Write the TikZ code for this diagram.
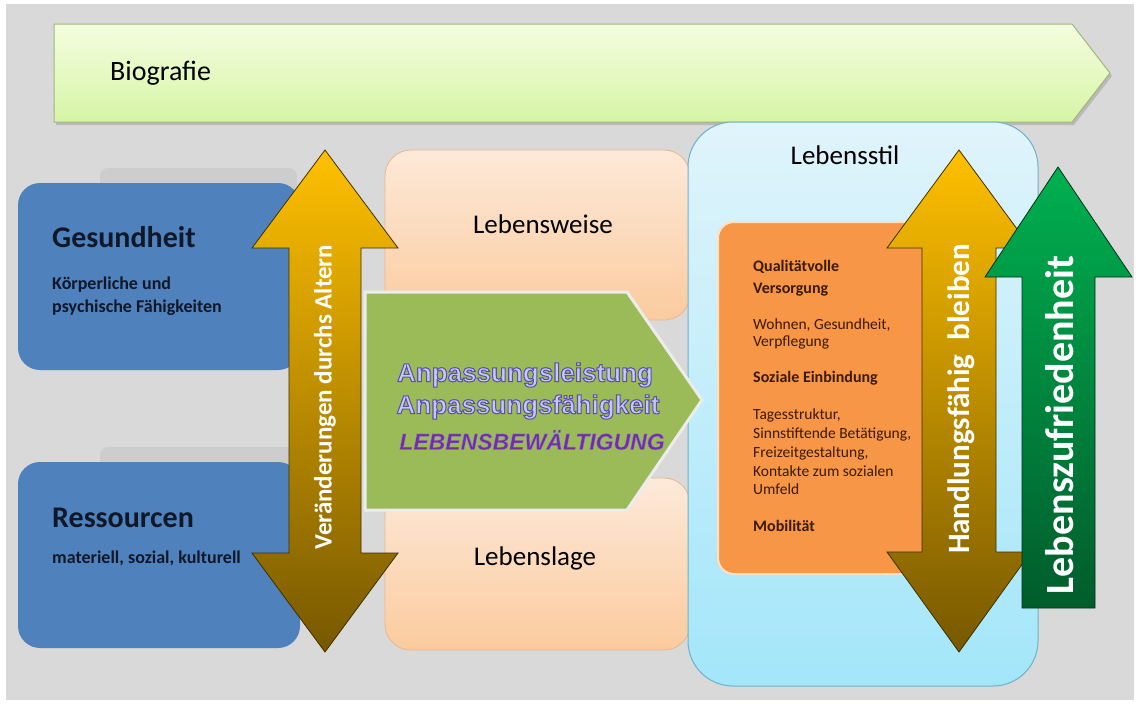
\documentclass[tikz,border=0pt]{standalone}
\usepackage{fontspec}
\setmainfont{Carlito}
\newfontfamily\wordartfont[BoldFeatures={FakeBold=4}]{Liberation Sans}
\newfontfamily\wordartital[BoldItalicFeatures={FakeBold=1.5}]{Liberation Sans}
\newcommand{\strokergb}[1]{\special{pdf:literal direct #1 RG}}
\definecolor{bg}{HTML}{D9D9D9}
\definecolor{navy}{HTML}{101828}
\definecolor{boxblue}{HTML}{4F81BD}
\definecolor{shadowgray}{HTML}{CDCDCD}
\definecolor{biotop}{HTML}{F5FDDF}
\definecolor{biobot}{HTML}{D6F5A6}
\definecolor{bioline}{HTML}{A0B878}
\definecolor{peachtop}{HTML}{FDE9D9}
\definecolor{peachbot}{HTML}{FBCB9E}
\definecolor{peachline}{HTML}{E8B890}
\definecolor{skytop}{HTML}{E0F4FB}
\definecolor{skybot}{HTML}{A3E6FA}
\definecolor{skyline}{HTML}{70B0C8}
\definecolor{orangebox}{HTML}{F79646}
\definecolor{orangeline}{HTML}{FCE0C8}
\definecolor{obrown}{HTML}{3A1A00}
\definecolor{olivegreen}{HTML}{9BBB59}
\definecolor{paleline}{HTML}{ECECEC}
\definecolor{goldtop}{HTML}{FFC000}
\definecolor{goldmid}{HTML}{C89600}
\definecolor{goldbot}{HTML}{775800}
\definecolor{goldline}{HTML}{3D3000}
\definecolor{greentop}{HTML}{00B050}
\definecolor{greenbot}{HTML}{005C2C}
\definecolor{greenline}{HTML}{003018}
\definecolor{lavender}{HTML}{C8C8F2}
\definecolor{purpletext}{HTML}{7030A0}
\tikzset{
  bluebox/.style={fill=boxblue, rounded corners=22pt},
  boxshadow/.style={fill=shadowgray, rounded corners=8pt},
  peachbox/.style={top color=peachtop, bottom color=peachbot, draw=peachline, line width=0.8pt, rounded corners=26pt},
  goldarrow/.style={top color=goldtop, middle color=goldmid, bottom color=goldbot, draw=goldline, line width=0.8pt},
  greenarrow/.style={top color=greentop, bottom color=greenbot, draw=greenline, line width=0.8pt},
  btitle/.style={font=\fontsize{30}{36}\selectfont\bfseries, text=navy, anchor=base west, inner sep=0pt},
  bsub/.style={font=\fontsize{18}{22}\selectfont\bfseries, text=navy, anchor=base west, inner sep=0pt},
  plabel/.style={font=\fontsize{27}{32}\selectfont, text=black, anchor=base, inner sep=0pt},
  ohead/.style={font=\fontsize{16}{19}\selectfont\bfseries, text=obrown, anchor=base west, inner sep=0pt},
  otext/.style={font=\fontsize{15.5}{19}\selectfont, text=obrown, anchor=base west, inner sep=0pt},
  wordart/.style={font=\wordartfont\bfseries\fontsize{26}{30}\selectfont, text=lavender, inner sep=0pt},
  vlabel/.style={rotate=90, text=white, inner sep=0pt},
}
\begin{document}
\begin{tikzpicture}[x=1pt,y=-1pt]
\useasboundingbox (0,0) rectangle (1138,707);
\fill[white] (0,0) rectangle (1138,707);
\fill[bg] (6,4) rectangle (1134,700);

% Biografie arrow
\fill[shadowgray!80!black!60!bg] (56,27) -- (1074,27) -- (1112,76) -- (1074,125) -- (56,125) -- cycle;
\path[top color=biotop, bottom color=biobot, draw=bioline, line width=1pt]
  (54,24) -- (1072,24) -- (1110,73) -- (1072,122) -- (54,122) -- cycle;
\node[font=\fontsize{28}{34}\selectfont, anchor=west, inner sep=0pt] (bio) at (110,73) {Biografie};

% left blue boxes
\fill[boxshadow] (100,168) rectangle (297,205);
\fill[bluebox] (18,183) rectangle (300,370);
\fill[boxshadow] (100,447) rectangle (297,485);
\fill[bluebox] (18,462) rectangle (300,648);
\node[btitle] (ges) at (52,247) {Gesundheit};
\node[bsub] (ges1) at (52,289) {Körperliche und};
\node[bsub] (ges2) at (52,312) {psychische Fähigkeiten};
\node[btitle] (res) at (52,527) {Ressourcen};
\node[bsub] (res1) at (52,563) {materiell, sozial, kulturell};

% peach boxes
\path[peachbox] (385,150) rectangle (690,320);
\path[peachbox] (385,478) rectangle (690,650);
\node[plabel] (weise) at (543,233) {Lebensweise};
\node[plabel] (lage) at (535,565) {Lebenslage};

% Lebensstil box
\path[top color=skytop, bottom color=skybot, draw=skyline, line width=1pt, rounded corners=45pt]
  (688,122) rectangle (1038,686);
\node[plabel] (stil) at (845,164) {Lebensstil};

% green pentagon
\path[fill=olivegreen, draw=paleline, line width=3pt]
  (365,292) -- (627,292) -- (702,400) -- (627,510) -- (365,510) -- cycle;
\node[wordart] (anp1) at (525,375) {\strokergb{0.35 0.31 0.69}Anpassungsleistung};
\node[wordart] (anp2) at (528,407) {\strokergb{0.35 0.31 0.69}Anpassungsfähigkeit};
\node[font=\wordartital\bfseries\itshape\fontsize{23}{28}\selectfont, text=purpletext, inner sep=0pt] (bew) at (532,440) {\strokergb{0.62 0.5 0.85}LEBENSBEWÄLTIGUNG};

% left double arrow
\path[goldarrow] (325,150) -- (398,248) -- (361,248) -- (361,553) -- (398,553) -- (325,652)
  -- (252,553) -- (289,553) -- (289,248) -- (252,248) -- cycle;
\node[vlabel, font=\bfseries\fontsize{25}{30}\selectfont] (alt) at (325,397) {Veränderungen durchs Altern};

% orange box
\path[fill=orangebox, draw=orangeline, line width=2pt, rounded corners=16pt] (718,222) rectangle (940,574);
\node[ohead] (q1) at (753,271) {Qualitätvolle};
\node[ohead] (q2) at (753,293) {Versorgung};
\node[otext] (q3) at (753,329) {Wohnen, Gesundheit,};
\node[otext] (q4) at (753,346) {Verpflegung};
\node[ohead] (q5) at (753,382) {Soziale Einbindung};
\node[otext] (q6) at (753,419) {Tagesstruktur,};
\node[otext] (q7) at (753,438) {Sinnstiftende Betätigung,};
\node[otext] (q8) at (753,457) {Freizeitgestaltung,};
\node[otext] (q9) at (753,476) {Kontakte zum sozialen};
\node[otext] (q10) at (753,494) {Umfeld};
\node[ohead] (q11) at (753,531) {Mobilität};

% right double arrow
\path[goldarrow] (959,150) -- (1031,248) -- (996,248) -- (996,552) -- (1031,552) -- (959,652)
  -- (887,552) -- (922,552) -- (922,248) -- (887,248) -- cycle;
\node[vlabel, font=\bfseries\fontsize{31}{36}\selectfont] (hand) at (961,399) {Handlungsfähig\ \ bleiben};

% green up arrow
\path[greenarrow] (1058,167) -- (1132,277) -- (1095,277) -- (1095,608) -- (1022,608) -- (1022,277) -- (985,277) -- cycle;
\node[vlabel, font=\bfseries\fontsize{40}{46}\selectfont] (zuf) at (1060,425) {Lebenszufriedenheit};
\end{tikzpicture}
\end{document}
